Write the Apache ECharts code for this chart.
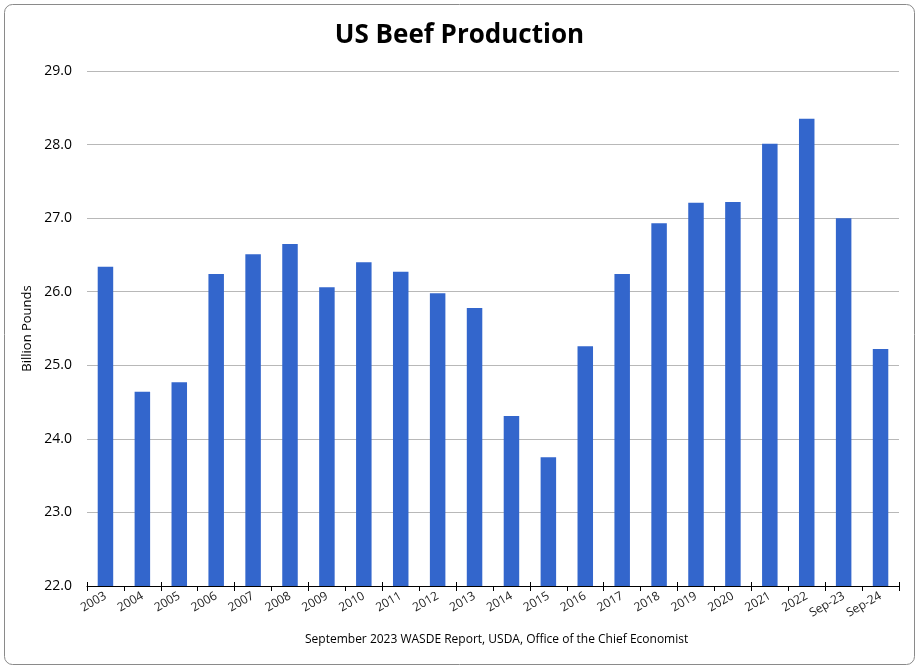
<!DOCTYPE html>
<html>
<head>
<meta charset="utf-8">
<script src="https://cdn.jsdelivr.net/npm/echarts@6/dist/echarts.min.js"></script>
<style>html,body{margin:0;padding:0;background:#fff}#c{width:919px;height:669px}</style>
</head>
<body>
<div id="c"></div>
<script>
const categories = ['2003','2004','2005','2006','2007','2008','2009','2010','2011','2012','2013','2014','2015','2016','2017','2018','2019','2020','2021','2022','Sep-23','Sep-24'];
const production = [26.34,24.64,24.77,26.24,26.51,26.65,26.06,26.40,26.27,25.98,25.78,24.31,23.75,25.26,26.24,26.93,27.21,27.22,28.01,28.35,27.00,25.22];
const yTicks = {min: 22, max: 29, interval: 1};
const titleText = 'US Beef Production';
const yName = 'Billion Pounds';
const footer = 'September 2023 WASDE Report, USDA, Office of the Chief Economist';

const font = '"Open Sans", "Noto Sans", sans-serif';
const chart = echarts.init(document.getElementById('c'), null, {renderer: 'canvas'});
chart.setOption({
  animation: false,
  backgroundColor: '#fff',
  title: {
    text: titleText, left: 'center', top: 18,
    textStyle: {fontFamily: font, fontWeight: 'bold', fontSize: 26, color: '#000'}
  },
  grid: {left: 87, right: 20, top: 71, bottom: 83, containLabel: false},
  graphic: [
    {type: 'rect', shape: {x: 4.5, y: 4.5, width: 910, height: 660, r: 8}, style: {fill: 'none', stroke: '#8a8a8a', lineWidth: 1}, z: -1},
    {type: 'text', left: 493 - 188, top: 634, style: {text: footer, font: '12px ' + font, fill: '#000'}}
  ],
  xAxis: [{
    type: 'category', data: categories, position: 'bottom',
    axisLine: {lineStyle: {color: '#000', width: 1}},
    axisTick: {show: true, alignWithLabel: false, length: 5, lineStyle: {color: '#000'}},
    axisLabel: {rotate: 30, fontFamily: font, fontSize: 12, color: '#222', margin: 9, interval: 0}
  }, {
    type: 'category', data: categories, position: 'bottom',
    axisLine: {show: false},
    axisTick: {show: true, inside: true, length: 4, lineStyle: {color: '#000'}},
    axisLabel: {show: false}
  }],
  yAxis: {
    type: 'value', min: yTicks.min, max: yTicks.max, interval: yTicks.interval,
    name: yName, nameLocation: 'middle', nameGap: 47, nameRotate: 90,
    nameTextStyle: {fontFamily: font, fontSize: 13, color: '#000'},
    axisLine: {show: false}, axisTick: {show: false},
    axisLabel: {formatter: v => v.toFixed(1), fontFamily: font, fontSize: 14, color: '#000', margin: 15},
    splitLine: {lineStyle: {color: '#b8b8b8', width: 1}}
  },
  series: [{
    type: 'bar', data: production, barWidth: '42%', xAxisIndex: 0,
    itemStyle: {color: '#3366CC'}
  }]
});
</script>
</body>
</html>
